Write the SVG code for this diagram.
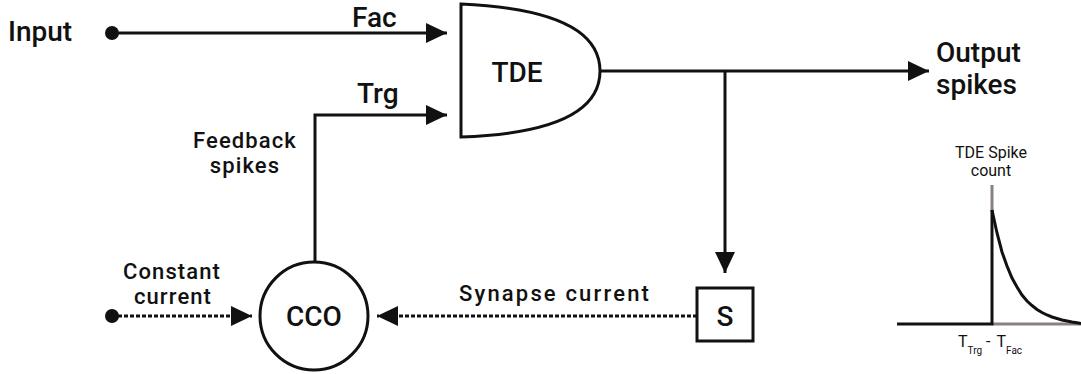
<svg xmlns="http://www.w3.org/2000/svg" width="1081" height="374" viewBox="0 0 1081 374">
  <style>
    text { font-family: Roboto, "Liberation Sans", sans-serif; font-weight: 500; fill: #111; }
    .big { font-size: 28px; }
    .mid { font-size: 22px; letter-spacing: 1.1px; }
    .small { font-size: 16px; font-weight: 400; }
    .wire { fill: none; stroke: #111; stroke-width: 3; }
    .dash { fill: none; stroke: #111; stroke-width: 3; stroke-dasharray: 4 2; }
    .shape { fill: #fff; stroke: #111; stroke-width: 3; }
    .grey { fill: none; stroke: #8a8080; stroke-width: 3; }
  </style>
  <defs>
    <marker id="arrow" viewBox="0 0 21 20" refX="21" refY="10" markerWidth="21" markerHeight="20" markerUnits="userSpaceOnUse" orient="auto">
      <path d="M0,0 L21,10 L0,20 Z" fill="#111"/>
    </marker>
  </defs>

  <!-- connectors -->
  <g id="connectors">
    <circle cx="112" cy="33" r="7" fill="#111"/>
    <line class="wire" x1="112" y1="33" x2="447" y2="33" marker-end="url(#arrow)"/>
    <polyline class="wire" points="315,262 315,115 447,115" marker-end="url(#arrow)"/>
    <line class="wire" x1="600" y1="71" x2="929" y2="71" marker-end="url(#arrow)"/>
    <line class="wire" x1="725" y1="71" x2="725" y2="273" marker-end="url(#arrow)"/>
    <line class="dash" x1="697" y1="316" x2="377" y2="316" marker-end="url(#arrow)"/>
    <circle cx="112" cy="316" r="7" fill="#111"/>
    <line class="dash" x1="112" y1="316" x2="252" y2="316" marker-end="url(#arrow)"/>
    <text class="big" x="352" y="27">Fac</text>
    <text class="big" x="357" y="103">Trg</text>
    <text class="mid" x="245" y="148" text-anchor="middle">Feedback</text>
    <text class="mid" x="245" y="173" text-anchor="middle">spikes</text>
    <text class="mid" x="172" y="279" text-anchor="middle">Constant</text>
    <text class="mid" x="173" y="304" text-anchor="middle">current</text>
    <text class="mid" x="459" y="301" textLength="191" lengthAdjust="spacing">Synapse current</text>
  </g>

  <g id="input">
    <text class="big" x="8" y="41">Input</text>
  </g>

  <g id="output">
    <text class="big" x="936" y="62">Output</text>
    <text class="big" x="936" y="94">spikes</text>
  </g>

  <g id="tde">
    <path class="shape" d="M461,4 Q600,10 600,71 Q600,132 461,137 Z"/>
    <text class="big" x="517" y="82" text-anchor="middle">TDE</text>
  </g>

  <g id="cco">
    <circle class="shape" cx="314" cy="316" r="54"/>
    <text class="big" x="314" y="326" text-anchor="middle">CCO</text>
  </g>

  <g id="synapse">
    <rect class="shape" x="697" y="288" width="56" height="53"/>
    <text class="big" x="725" y="326" text-anchor="middle">S</text>
  </g>

  <!-- spike-count curve against the trigger/facilitation delay -->
  <g id="plot">
    <text class="small" x="991" y="158" text-anchor="middle">TDE Spike</text>
    <text class="small" x="991" y="176" text-anchor="middle">count</text>
    <line class="grey" x1="992" y1="185" x2="992" y2="211"/>
    <line class="grey" x1="992" y1="324" x2="1081" y2="324"/>
    <line class="wire" x1="897" y1="324" x2="993" y2="324"/>
    <line class="wire" x1="992" y1="210" x2="992" y2="325"/>
    <polyline class="wire" points="992,210 997,233 1002,252 1007,266 1012,278 1017,287 1022,295 1027,301 1032,305.5 1037,309.5 1042,312.5 1047,315 1052,317 1057,318.5 1062,320 1067,321 1072,322 1077,322.8 1081,323.5"/>
    <text class="small" x="958" y="347">T<tspan font-size="10" dy="7">Trg</tspan><tspan dy="-7" dx="4">-</tspan><tspan dx="6">T</tspan><tspan font-size="10" dy="7">Fac</tspan></text>
  </g>
</svg>
